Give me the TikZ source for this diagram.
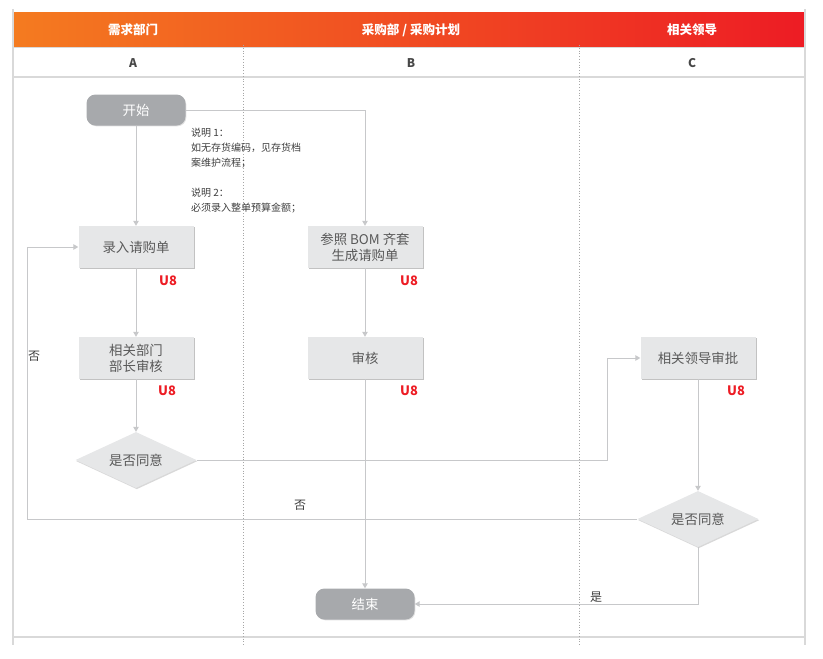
\documentclass[tikz,border=0pt]{standalone}
\usepackage{fontspec}
\setmainfont{Noto Sans CJK SC}
\usetikzlibrary{shapes.geometric, arrows.meta, shadows, positioning}
\definecolor{hdorange}{HTML}{F47B20}
\definecolor{hdred}{HTML}{ED1C24}
\definecolor{framegray}{HTML}{D9D9D9}
\definecolor{lanegray}{HTML}{A6A6A6}
\definecolor{boxfill}{HTML}{E6E7E8}
\definecolor{termfill}{HTML}{A7A9AC}
\definecolor{boxtext}{HTML}{595959}
\definecolor{linegray}{HTML}{C7C8CA}
\definecolor{u8red}{HTML}{ED1C24}

\begin{document}
\begin{tikzpicture}[x=1pt,y=-1pt]
            \tikzstyle{every node}+=[inner sep=0pt]
            \tikzstyle{hdtext}=[text=white, font=\fontsize{12.5}{14}\selectfont\bfseries]
            \tikzstyle{lanetext}=[text=boxtext!80!black, font=\fontsize{12}{14}\selectfont\bfseries]
            \tikzstyle{box}=[fill=boxfill, minimum width=115pt, minimum height=42pt, align=center, text=boxtext, font=\fontsize{13.4}{16}\selectfont, drop shadow={shadow xshift=1.2pt, shadow yshift=-1.2pt, fill=black!40, opacity=0.6}]
            \tikzstyle{term}=[fill=termfill, rounded corners=9pt, minimum width=99pt, minimum height=31pt, text=white, font=\fontsize{13.4}{16}\selectfont, drop shadow={shadow xshift=0.8pt, shadow yshift=-0.8pt, fill=black!25, opacity=0.5}]
            \tikzstyle{decide}=[diamond, aspect=2.16, fill=boxfill, minimum width=121pt, minimum height=56pt, text=boxtext, font=\fontsize{13.4}{16}\selectfont, drop shadow={shadow xshift=0.8pt, shadow yshift=-1.2pt, fill=black!30, opacity=0.5}]
            \tikzstyle{flow}=[draw=linegray, line width=1pt, -{Triangle[length=5pt, width=5.5pt]}]
            \tikzstyle{frame}=[draw=framegray, line width=1.5pt]
            \tikzstyle{lanediv}=[draw=lanegray, line width=0.8pt, dotted]
            \tikzstyle{u8}=[text=u8red, font=\fontsize{13}{15}\selectfont\bfseries]
            \tikzstyle{lbl}=[text=boxtext!70!black, font=\fontsize{12}{14}\selectfont]
            \tikzstyle{note}=[text=boxtext!70!black, align=left, font=\fontsize{10}{15}\selectfont]
            \useasboundingbox (0,0) rectangle (823,659);
            \shade [left color=hdorange, right color=hdred] (13,12) rectangle (805,47);
            \draw [frame] (13,9) -- (13,645);
            \draw [frame] (805,9) -- (805,645);
            \draw [frame] (13,47.5) -- (805,47.5);
            \draw [frame] (13,77) -- (805,77);
            \draw [frame] (13,637) -- (805,637);
            \draw [lanediv] (243,45) -- (243,645);
            \draw [lanediv] (579,45) -- (579,645);
            \node [hdtext] (hdA) at (133,30) {需求部门};
            \node [hdtext] (hdB) at (411,30) {采购部 / 采购计划};
            \node [hdtext] (hdC) at (692,30) {相关领导};
            \node [lanetext] (laneA) at (133,63) {A};
            \node [lanetext] (laneB) at (411,63) {B};
            \node [lanetext] (laneC) at (692,63) {C};
            \node [term] (start) at (136,110) {开始};
            \node [box] (enter) at (136,247) {录入请购单};
            \node [box] (bomgen) at (365,247) {参照 BOM 齐套\\生成请购单};
            \node [box] (deptcheck) at (136,358) {相关部门\\部长审核};
            \node [box] (review) at (365,358) {审核};
            \node [box] (leader) at (698,358) {相关领导审批};
            \node [decide] (agreeA) at (136,460) {是否同意};
            \node [decide] (agreeC) at (698,519) {是否同意};
            \node [term] (finish) at (365,604) {结束};
            \node [note, anchor=north west] (memo) at (191,128) {说明 1：\\如无存货编码，见存货档\\案维护流程；\\[15pt]说明 2：\\必须录入整单预算金额；};
            \node [u8] (u8enter) at (168,281) {U8};
            \node [u8] (u8bom) at (409,281) {U8};
            \node [u8] (u8dept) at (167,391) {U8};
            \node [u8] (u8review) at (409,391) {U8};
            \node [u8] (u8leader) at (736,391) {U8};
            \node [lbl] (noleft) at (34,356) {否};
            \node [lbl] (nomid) at (300,505) {否};
            \node [lbl] (yesC) at (596,597) {是};
            \coordinate (bendC) at (607,358);
            \coordinate (loopL) at (27,247);
            \draw [flow] (start) -- (enter);
            \draw [flow] (start.east) -| (bomgen.north);
            \draw [flow] (enter) -- (deptcheck);
            \draw [flow] (deptcheck) -- (agreeA);
            \draw [flow] (bomgen) -- (review);
            \draw [flow] (review) -- (finish);
            \draw [flow] (agreeA.east) -| (bendC) -- (leader.west);
            \draw [flow] (leader) -- (agreeC);
            \draw [flow] (agreeC.west) -| (loopL) -- (enter.west);
            \draw [flow] (agreeC.south) |- (finish.east);
\end{tikzpicture}
\end{document}
